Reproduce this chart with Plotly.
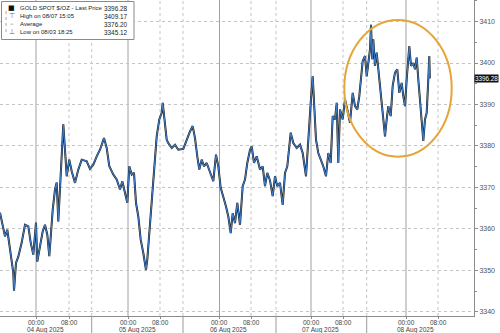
import plotly.graph_objects as go

# ---------------- data ----------------
# time in 15-minute trading steps from the start of the window
t_steps = [
    0, 2.7, 5, 7.3, 10, 13.3, 14, 16, 18.3, 21.7, 25, 28.3, 30.7, 33.3, 36, 37.3, 40, 42.7, 45, 47.3,
    49.3, 50.7, 52.7, 55, 56.7, 58.3, 60, 61.7, 63.3, 65, 66.7, 69.3, 71.7, 75, 78.3, 81.7, 86.7, 90,
    93.3, 96.7, 100, 104, 106.7, 109.3, 113.3, 116.7, 120, 122.3, 125, 127.3, 129.3, 131.7, 134, 136,
    138.3, 140.7, 143.3, 146, 147.3, 149.3, 151.7, 153.3, 155, 156.7, 159.3, 161.7, 162.7, 165, 166.7,
    168.3, 171.7, 175, 178.3,
    183.3, 186.7, 190, 192.7, 195, 197.3, 199.3, 201.7, 204, 206.7, 210, 213.3, 216, 218.3, 220.7,
    223.3, 226, 228.3, 230.7, 232.7, 235, 237.3, 240, 242.7, 245, 247.3, 250, 251.7, 254, 256.7, 260,
    262.7, 265, 267.3,
    270, 272.7, 275, 277.3, 280, 282.7, 285, 287.3, 289.3, 290.7, 293.3, 296.7, 300, 302.7, 306, 308.3,
    310.7, 312.7, 314.3, 316, 318.3, 320.7, 323.3, 326, 328.3, 330.7, 332.7, 335, 336.7, 338.3, 340,
    342.7, 345, 347.3, 350, 352.7, 355, 357.3, 359.3,
    362.7, 365, 366.7, 368.3, 370, 371, 372.3, 373.3, 375, 376.7, 378.3, 380, 381.7, 383.3, 385, 386.7,
    388.3, 390.7, 392.7, 395, 397.3, 399.3, 401.7, 403.3, 405, 406.7, 408.3, 409.3, 411, 413.3, 415,
    416.7, 418.3, 420, 421.7, 423.3, 425, 426.7, 428.3, 429.3, 429.8,
]
price = [
    3363.9, 3360.6, 3358.2, 3359.8, 3355.0, 3349.4, 3345.1, 3351.8, 3353.3, 3356.7, 3361.0, 3360.6,
    3356.7, 3353.8, 3361.5, 3352.1, 3355.8, 3359.4, 3361.0, 3358.6, 3353.4, 3358.2, 3364.6, 3369.5,
    3371.2, 3361.8, 3370.3, 3376.7, 3385.2, 3379.1, 3372.7, 3376.7, 3373.9, 3371.1, 3374.3, 3376.7,
    3376.3, 3374.5,
    3375.5, 3377.5, 3379.1, 3381.9, 3379.5, 3375.1, 3373.1, 3371.9, 3369.5, 3371.5, 3368.7, 3366.3,
    3375.1, 3373.1, 3373.5, 3366.3, 3363.0, 3357.4, 3354.2, 3350.1, 3352.6, 3359.0, 3365.4, 3372.7,
    3378.3, 3382.3, 3386.4, 3388.0, 3390.4, 3385.6, 3381.5, 3380.7, 3379.5, 3380.3, 3379.1,
    3379.3, 3381.5, 3383.5, 3384.8, 3381.9, 3377.5, 3374.3, 3376.7, 3375.1, 3375.9, 3373.5, 3371.5,
    3377.9, 3375.1, 3369.9, 3367.9, 3365.4, 3363.0, 3359.0, 3363.8, 3361.4, 3366.3, 3361.0, 3370.3,
    3371.9, 3375.9, 3379.1, 3379.9, 3375.9, 3377.5, 3374.3, 3375.1, 3370.3, 3373.5,
    3371.7, 3367.9, 3372.7, 3370.3, 3371.1, 3365.8, 3373.5, 3375.1, 3379.1, 3383.2, 3380.7, 3379.5,
    3380.3, 3378.3, 3372.7, 3382.3, 3390.4, 3396.8, 3390.4, 3381.5, 3378.3, 3376.7, 3375.1, 3372.7,
    3378.3, 3375.9, 3387.2, 3386.4, 3390.4, 3375.9, 3388.8, 3386.4, 3391.2, 3388.8, 3385.6, 3392.8,
    3389.6, 3388.8, 3392.0,
    3400.5, 3401.7, 3396.8, 3400.0, 3403.3, 3409.2, 3400.9, 3405.7, 3399.3, 3402.5, 3399.3, 3394.5,
    3390.4, 3386.4, 3382.3, 3386.4, 3389.6, 3387.2, 3394.5, 3397.7, 3398.5, 3392.8, 3395.2, 3392.0,
    3389.6, 3396.1, 3400.9, 3404.1, 3399.3, 3400.0, 3398.5, 3401.3, 3396.1, 3390.4, 3387.2, 3381.2,
    3386.4, 3388.0, 3396.1, 3401.7, 3396.3,
]

midnight_pos = [36, 128, 219.5, 311, 406]
eight_pos = [69, 160, 251, 343, 438]
session_sep = [91.7, 183, 276, 366.7]
date_labels = ["04 Aug 2025", "05 Aug 2025", "06 Aug 2025", "07 Aug 2025", "08 Aug 2025"]
y_ticks = [3340, 3350, 3360, 3370, 3380, 3390, 3400, 3410]

legend_rows = [
    ("■", "GOLD SPOT $/OZ - Last Price", "3396.28"),
    ("⊤", "High on 08/07 15:05", "3409.17"),
    ("–", "Average", "3376.20"),
    ("⊥", "Low on 08/03 18:25", "3345.12"),
]
last_price = 3396.28

# ---------------- figure ----------------
W, H = 500, 333
ML, MR, MT, MB = 0, 26, 0, 17
PW, PH = W - ML - MR, H - MT - MB
X_RANGE = [0, 474]
Y_RANGE = [3339.0, 3415.2]
FONT = "Liberation Sans"


def px_x(px):
    return px / PW


def px_y(py):
    return 1 - py / PH


def to_paper_x(t):
    return (t - X_RANGE[0]) / (X_RANGE[1] - X_RANGE[0])


fig = go.Figure()
fig.add_trace(go.Scatter(x=t_steps, y=price, mode="lines",
                         line=dict(color="#1a1a1a", width=2.0), hoverinfo="skip"))
fig.add_trace(go.Scatter(x=t_steps, y=price, mode="lines",
                         line=dict(color="#3f7cc6", width=1.1), hoverinfo="skip"))

shapes = []
# vertical grid lines
for t in midnight_pos:
    shapes.append(dict(type="line", xref="x", yref="paper", x0=t, x1=t, y0=0, y1=1,
                       line=dict(color="#a0a0a0", width=1), layer="below"))
for t in eight_pos:
    shapes.append(dict(type="line", xref="x", yref="paper", x0=t, x1=t, y0=0, y1=1,
                       line=dict(color="#c4c4c4", width=1, dash="dot"), layer="below"))
for t in session_sep:
    shapes.append(dict(type="line", xref="x", yref="paper", x0=t, x1=t, y0=0, y1=1,
                       line=dict(color="#c4c4c4", width=1, dash="dot"), layer="below"))
    shapes.append(dict(type="line", xref="paper", yref="paper", x0=to_paper_x(t), x1=to_paper_x(t),
                       y0=0, y1=-MB / PH, line=dict(color="#9a9a9a", width=1)))

# orange ellipse
shapes.append(dict(type="circle", xref="x", yref="y", x0=344.3, x1=451.7, y0=3377.4, y1=3410.4,
                   line=dict(color="#E5A538", width=2)))

# legend box
shapes.append(dict(type="rect", xref="paper", yref="paper", x0=px_x(1.5), x1=px_x(134),
                   y0=px_y(39.5), y1=px_y(1.5), line=dict(color="#8a8a8a", width=1),
                   fillcolor="white", layer="above"))
shapes.append(dict(type="line", xref="paper", yref="paper", x0=px_x(6), x1=px_x(6),
                   y0=px_y(11), y1=px_y(33), line=dict(color="#aaaaaa", width=1, dash="dot"),
                   layer="above"))

annotations = []
row_y = [8.3, 16.0, 24.3, 32.3]
for (icon, label, val), ry in zip(legend_rows, row_y):
    annotations.append(dict(xref="paper", yref="paper", x=px_x(11.5), y=px_y(ry), text=icon,
                            showarrow=False, xanchor="center", yanchor="middle",
                            font=dict(family="DejaVu Sans", size=7,
                                      color="#111" if icon == "■" else "#666")))
    annotations.append(dict(xref="paper", yref="paper", x=px_x(17.5), y=px_y(ry), text=label,
                            showarrow=False, xanchor="left", yanchor="middle",
                            font=dict(family=FONT, size=6, color="#222")))
    annotations.append(dict(xref="paper", yref="paper", x=px_x(130), y=px_y(ry), text=val,
                            showarrow=False, xanchor="right", yanchor="middle",
                            font=dict(family=FONT, size=6.4, color="#222")))

# time-of-day labels and date labels under the axis
for t in midnight_pos:
    annotations.append(dict(xref="x", yref="paper", x=t, y=0, yshift=-6.5, text="00:00",
                            showarrow=False, xanchor="center", yanchor="middle",
                            font=dict(family=FONT, size=6.5, color="#444")))
for t in eight_pos:
    annotations.append(dict(xref="x", yref="paper", x=t, y=0, yshift=-6.5, text="08:00",
                            showarrow=False, xanchor="center", yanchor="middle",
                            font=dict(family=FONT, size=6.5, color="#444")))
for t, lab in zip(midnight_pos, date_labels):
    annotations.append(dict(xref="x", yref="paper", x=t + 9, y=0, yshift=-13.5, text=lab,
                            showarrow=False, xanchor="center", yanchor="middle",
                            font=dict(family=FONT, size=6.5, color="#444")))

annotations.append(dict(xref="paper", yref="y", x=1, y=last_price, text=f"{last_price:.2f}",
                        showarrow=False, xanchor="left", yanchor="middle", xshift=0,
                        bgcolor="#111111", borderpad=0,
                        font=dict(family=FONT, size=6.3, color="white")))

tick_vals = midnight_pos + eight_pos

fig.update_layout(
    width=W, height=H,
    margin=dict(l=ML, r=MR, t=MT, b=MB),
    paper_bgcolor="white", plot_bgcolor="white",
    showlegend=False,
    shapes=shapes, annotations=annotations,
    xaxis=dict(range=X_RANGE, tickvals=tick_vals, showticklabels=False, showgrid=False,
               zeroline=False, showline=True, linecolor="#8c8c8c", linewidth=1,
               ticks="outside", ticklen=2, tickcolor="#8c8c8c"),
    yaxis=dict(range=Y_RANGE, side="right", tickvals=y_ticks, showgrid=True,
               gridcolor="#c4c4c4", griddash="dot", gridwidth=1, zeroline=False,
               showline=True, linecolor="#8c8c8c", linewidth=1,
               ticks="outside", ticklen=3, tickcolor="#8c8c8c",
               minor=dict(dtick=5, ticks="outside", ticklen=2, tickcolor="#8c8c8c", showgrid=False),
               tickfont=dict(family=FONT, size=7, color="#555")),
)

fig.write_html("out.html")
